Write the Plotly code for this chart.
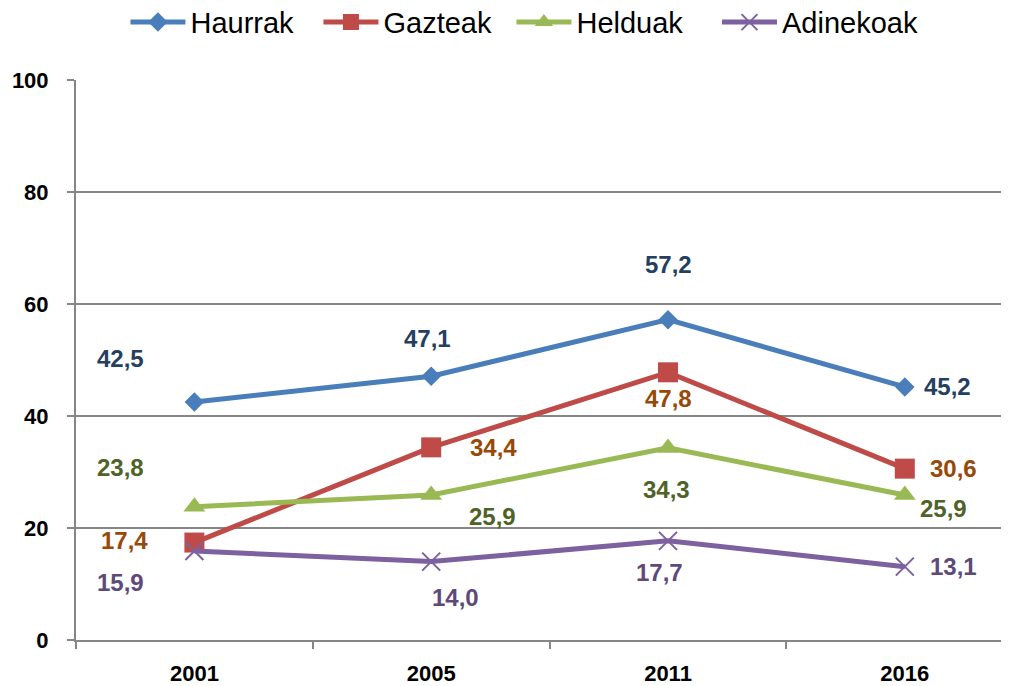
import plotly.graph_objects as go

years = ["2001", "2005", "2011", "2016"]
series_names = ["Haurrak", "Gazteak", "Helduak", "Adinekoak"]
haurrak = [42.5, 47.1, 57.2, 45.2]
gazteak = [17.4, 34.4, 47.8, 30.6]
helduak = [23.8, 25.9, 34.3, 25.9]
adinekoak = [15.9, 14.0, 17.7, 13.1]
y_ticks = [0, 20, 40, 60, 80, 100]

values = [haurrak, gazteak, helduak, adinekoak]
line_colors = ["#4A7EBB", "#BE4B48", "#98B954", "#7D60A0"]
label_colors = ["#243F60", "#984807", "#4F6228", "#5F497A"]
symbols = ["diamond", "square", "triangle-up", "x-thin"]
msizes = [15, 20, 19, 18]
legend_ids = ["legend", "legend", "legend", "legend2"]

# label offsets in pixels (xshift, yshift)
offsets = [
    [(-74, 44), (-4, 38), (0, 55), (43, 0)],
    [(-70, 2), (62, 0), (0, -26), (49, 0)],
    [(-74, 39), (61, -22), (-2, -42), (39, -14)],
    [(-74, -32), (24, -36), (-9, -32), (49, 0)],
]

FONT = "Liberation Sans"
fig = go.Figure()
for name, vals, lc, sym, ms, lg in zip(series_names, values, line_colors, symbols, msizes, legend_ids):
    marker = dict(symbol=sym, size=ms, color=lc)
    if sym == "x-thin":
        marker["line"] = dict(color=lc, width=2)
    fig.add_trace(go.Scatter(
        x=years, y=vals, name=name, mode="lines+markers",
        line=dict(color=lc, width=5), marker=marker, legend=lg,
    ))

for vals, col, offs in zip(values, label_colors, offsets):
    for i, (v, (dx, dy)) in enumerate(zip(vals, offs)):
        fig.add_annotation(
            x=i, y=v, xref="x", yref="y",
            text="<b>" + f"{v:.1f}".replace(".", ",") + "</b>",
            showarrow=False, xshift=dx, yshift=dy,
            font=dict(family=FONT, size=24, color=col),
        )

legend_common = dict(
    orientation="h", xanchor="left", y=0.979, yanchor="middle",
    yref="container", font=dict(family=FONT, size=29, color="black"),
    itemwidth=55, tracegroupgap=0, bgcolor="rgba(0,0,0,0)",
)
fig.update_layout(
    width=1001, height=678,
    margin=dict(l=68, r=0, t=72, b=46),
    paper_bgcolor="white", plot_bgcolor="white",
    font=dict(family=FONT, color="black"),
    legend=dict(x=0.053, entrywidth=123, **legend_common),
    legend2=dict(x=0.687, **legend_common),
    showlegend=True,
)
fig.update_xaxes(
    type="category", range=[-0.5, 3.44], showgrid=False,
    showline=True, linecolor="#868686", linewidth=2,
    ticks="outside", tickson="boundaries", ticklen=7, tickcolor="#868686", tickwidth=2,
    tickfont=dict(family=FONT, size=22, color="black", weight="bold"),
    ticklabelstandoff=13,
)
fig.update_yaxes(
    range=[0, 100], tickvals=y_ticks, showgrid=True, gridcolor="#868686", gridwidth=2,
    showline=True, linecolor="#868686", linewidth=2, zeroline=False,
    ticks="outside", ticklen=7, tickcolor="#868686", tickwidth=2,
    tickfont=dict(family=FONT, size=22, color="black", weight="bold"),
    ticklabelstandoff=14,
)
fig.write_html("out.html")
